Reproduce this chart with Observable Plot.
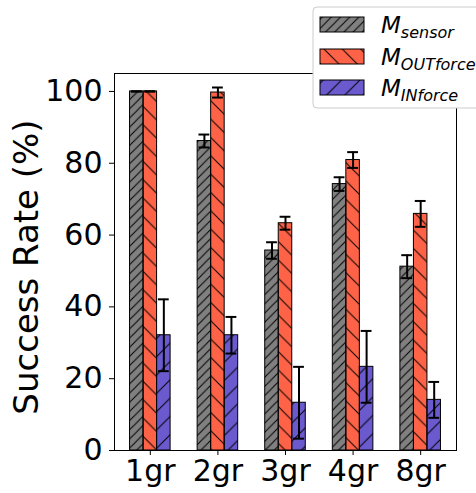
<!DOCTYPE html>
<html>
<head>
<meta charset="utf-8">
<script src="https://cdn.jsdelivr.net/npm/d3@7"></script>
<script src="https://cdn.jsdelivr.net/npm/@observablehq/plot@0.6"></script>
<style>
  html, body { margin: 0; padding: 0; background: #fff; }
  #chart { width: 476px; height: 493px; overflow: hidden; }
</style>
</head>
<body>
<div id="chart"></div>
<script>
// ---- data ----
const categories = ["1gr", "2gr", "3gr", "4gr", "8gr"];
const sensorMean = [100, 86.2, 55.7, 74.2, 51.2];
const sensorErr  = [0, 1.8, 2.3, 1.9, 3.2];
const outMean    = [100, 99.7, 63.3, 80.9, 65.9];
const outErr     = [0, 1.4, 1.8, 2.2, 3.6];
const inMean     = [32.1, 32.1, 13.3, 23.3, 14.1];
const inErr      = [10, 5.1, 10, 10, 5];
const yTicks     = [0, 20, 40, 60, 80, 100];
const yLabel     = "Success Rate (%)";

const seriesNames = ["sensor", "OUTforce", "INforce"];
const seriesColors = ["#808080", "#ff6347", "#6a5acd"];
const seriesPatterns = ["hatch-dd", "hatch-b", "hatch-d"];
const seriesOffsets = [-0.2, 0, 0.2];
const barW = 0.2;
const capHalf = 0.08;

const means = [sensorMean, outMean, inMean];
const errs = [sensorErr, outErr, inErr];

const rows = [];
means.forEach((m, s) => {
  m.forEach((v, i) => {
    const c = i + seriesOffsets[s];
    rows.push({
      series: s, cat: categories[i],
      x1: c - barW / 2, x2: c + barW / 2, xc: c,
      cx1: c - capHalf, cx2: c + capHalf,
      y: v, lo: v - errs[s][i], hi: v + errs[s][i],
      color: seriesColors[s], pat: `url(#${seriesPatterns[s]})`
    });
  });
});

const font = "DejaVu Sans";

const plot = Plot.plot({
  width: 476,
  height: 493,
  marginLeft: 114,
  marginRight: 20,
  marginTop: 73,
  marginBottom: 43,
  style: { fontFamily: font, background: "white" },
  x: { type: "linear", domain: [-0.53, 4.53] },
  y: { domain: [0, 105] },
  marks: [
    Plot.rectY(rows, { x1: "x1", x2: "x2", y1: 0, y2: "y", fill: "color" }),
    Plot.rectY(rows, { x1: "x1", x2: "x2", y1: 0, y2: "y", fill: "pat", stroke: "black", strokeWidth: 1 }),
    Plot.ruleX(rows, { x: "xc", y1: "lo", y2: "hi", stroke: "black", strokeWidth: 2 }),
    Plot.ruleY(rows, { y: "lo", x1: "cx1", x2: "cx2", stroke: "black", strokeWidth: 2 }),
    Plot.ruleY(rows, { y: "hi", x1: "cx1", x2: "cx2", stroke: "black", strokeWidth: 2 }),
    Plot.frame({ stroke: "black", strokeWidth: 1 }),
    Plot.axisY({ ticks: yTicks, tickSize: 5, tickPadding: 7, fontSize: 30, label: null, stroke: "black", color: "black" }),
    Plot.axisX({ ticks: [0, 1, 2, 3, 4], tickFormat: i => categories[i], tickSize: 5, tickPadding: 4, fontSize: 30, label: null, color: "black" }),
    Plot.text([yLabel], { text: d => d, frameAnchor: "left", textAnchor: "middle", rotate: -90, dx: -87, dy: 5, fontSize: 34, fill: "black", lineAnchor: "middle" })
  ]
});

// hatch patterns
function addPatterns(svg) {
  const defs = d3.select(svg).insert("defs", ":first-child");
  const mk = (id, s, dir) => {
    const p = defs.append("pattern").attr("id", id)
      .attr("patternUnits", "userSpaceOnUse").attr("width", s).attr("height", s);
    const d = dir === "/"
      ? `M-1,1L1,-1M0,${s}L${s},0M${s - 1},${s + 1}L${s + 1},${s - 1}`
      : `M-1,${s - 1}L1,${s + 1}M0,0L${s},${s}M${s - 1},-1L${s + 1},1`;
    p.append("path").attr("d", d).attr("stroke", "black").attr("stroke-width", 1).attr("fill", "none");
  };
  mk("hatch-dd", 9.17, "/");
  mk("hatch-d", 18.33, "/");
  mk("hatch-b", 18.33, "\\");
}
addPatterns(plot);

// legend
const svg = d3.select(plot);
const lg = svg.append("g").attr("font-family", font).attr("text-anchor", "start");
lg.append("rect").attr("x", 313).attr("y", 7).attr("width", 175).attr("height", 101)
  .attr("rx", 4).attr("fill", "white").attr("stroke", "#cccccc").attr("stroke-width", 1);
const rowY = [17, 49, 80];
seriesNames.forEach((name, s) => {
  lg.append("rect").attr("x", 320).attr("y", rowY[s]).attr("width", 44).attr("height", 15)
    .attr("fill", seriesColors[s]);
  lg.append("rect").attr("x", 320).attr("y", rowY[s]).attr("width", 44).attr("height", 15)
    .attr("fill", `url(#${seriesPatterns[s]})`).attr("stroke", "black").attr("stroke-width", 1);
  const t = lg.append("text").attr("x", 381).attr("y", rowY[s] + 16)
    .attr("font-style", "italic").attr("fill", "black").attr("text-anchor", "start");
  t.append("tspan").attr("font-size", 23).text("M");
  t.append("tspan").attr("font-size", 16).attr("dy", 5).text(name);
});

document.getElementById("chart").appendChild(plot);
</script>
</body>
</html>
